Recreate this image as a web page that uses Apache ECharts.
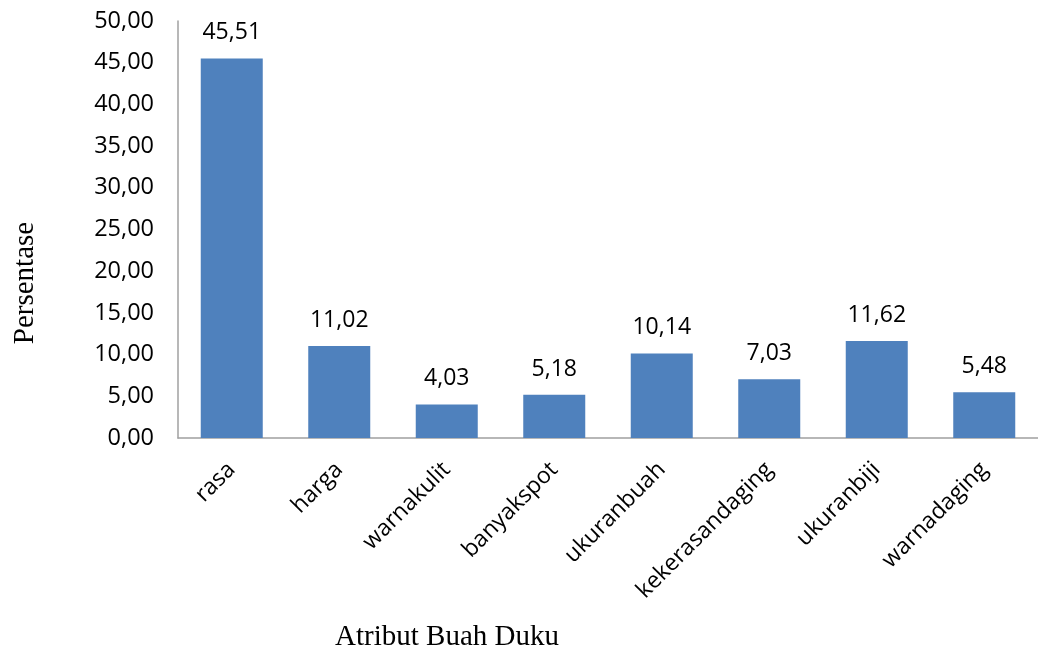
<!DOCTYPE html>
<html><head><meta charset="utf-8">
<script src="https://cdn.jsdelivr.net/npm/echarts@6/dist/echarts.min.js"></script>
<style>html,body{margin:0;padding:0;background:#fff}#c{width:1038px;height:654px}</style>
</head><body><div id="c"></div>
<script>
const categories = ['rasa','harga','warnakulit','banyakspot','ukuranbuah','kekerasandaging','ukuranbiji','warnadaging'];
const values = [45.51, 11.02, 4.03, 5.18, 10.14, 7.03, 11.62, 5.48];
const yTitle = 'Persentase';
const xTitle = 'Atribut Buah Duku';
const fmt = v => Number(v).toFixed(2).replace('.', ',');
const chart = echarts.init(document.getElementById('c'));
const lf = '"Open Sans", "Liberation Sans", sans-serif';
chart.setOption({
  animation: false,
  grid: {left: 178, top: 21, width: 864, height: 417, containLabel: false},
  xAxis: {
    type: 'category', data: categories,
    axisLine: {lineStyle: {color: '#a0a0a0', width: 1.5}},
    axisTick: {show: false},
    axisLabel: {rotate: 45, color: '#000', fontSize: 23, fontFamily: lf, margin: 28}
  },
  yAxis: {
    type: 'value', min: 0, max: 50, interval: 5,
    axisLine: {show: true, lineStyle: {color: '#a0a0a0', width: 1.5}},
    axisTick: {show: false},
    splitLine: {show: false},
    axisLabel: {color: '#000', fontSize: 23.5, fontFamily: lf, margin: 24, formatter: fmt}
  },
  series: [{
    type: 'bar', data: values, barWidth: 62,
    itemStyle: {color: '#4F81BD'},
    label: {show: true, position: 'top', distance: 14, color: '#000', fontSize: 23, fontFamily: lf, formatter: p => fmt(p.value)}
  }],
  graphic: [
    {type: 'text', x: 447, y: 637, style: {text: xTitle, font: '29px "Liberation Serif", "Times New Roman", serif', fill: '#000', align: 'center', verticalAlign: 'middle'}},
    {type: 'text', x: 25, y: 283, rotation: Math.PI/2, style: {text: yTitle, font: '29px "Liberation Serif", "Times New Roman", serif', fill: '#000', align: 'center', verticalAlign: 'middle'}}
  ]
});
</script></body></html>
